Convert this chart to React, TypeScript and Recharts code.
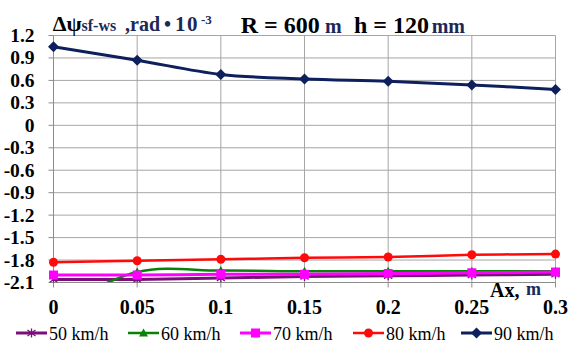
import React from "react"
import {
  LineChart,
  Line,
  XAxis,
  YAxis,
  CartesianGrid,
  Customized,
} from "recharts"

// values
const xValues = [0, 0.05, 0.1, 0.15, 0.2, 0.25, 0.3]
const speed50 = [-2.06, -2.06, -2.04, -2.02, -2.01, -2.0, -1.99]
const speed60 = [-2.45, -1.96, -1.94, -1.95, -1.95, -1.95, -1.95]
const speed70 = [-2.0, -2.0, -1.99, -1.99, -1.98, -1.97, -1.96]
const speed80 = [-1.83, -1.81, -1.79, -1.77, -1.76, -1.73, -1.72]
const speed90 = [1.05, 0.87, 0.68, 0.62, 0.59, 0.54, 0.48]
const seriesNames = ["50 km/h", "60 km/h", "70 km/h", "80 km/h", "90 km/h"]
const yTicks = [1.2, 0.9, 0.6, 0.3, 0, -0.3, -0.6, -0.9, -1.2, -1.5, -1.8, -2.1]

const data = xValues.map((x, i) => ({
  x,
  s50: speed50[i],
  s60: speed60[i],
  s70: speed70[i],
  s80: speed80[i],
  s90: speed90[i],
}))

const FONT = "Liberation Serif, DejaVu Serif, serif"
const NAVY = "#0d1f5c"
const TXT_NAVY = "#1c2858"

// Excel-like smoothing (Catmull-Rom as cubic beziers)
const excelCurve = (context: any) => {
  let pts: number[][] = []
  return {
    areaStart() {},
    areaEnd() {},
    lineStart() {
      pts = []
    },
    point(x: number, y: number) {
      pts.push([+x, +y])
    },
    lineEnd() {
      if (!pts.length) return
      context.moveTo(pts[0][0], pts[0][1])
      for (let i = 0; i < pts.length - 1; i++) {
        const p0 = pts[i - 1] || pts[i]
        const p1 = pts[i]
        const p2 = pts[i + 1]
        const p3 = pts[i + 2] || p2
        context.bezierCurveTo(
          p1[0] + (p2[0] - p0[0]) / 6,
          p1[1] + (p2[1] - p0[1]) / 6,
          p2[0] - (p3[0] - p1[0]) / 6,
          p2[1] - (p3[1] - p1[1]) / 6,
          p2[0],
          p2[1]
        )
      }
    },
  }
}

type MarkProps = { cx: number; cy: number; color: string }

const Asterisk = ({ cx, cy, color }: MarkProps) => (
  <g stroke={color} strokeWidth={1.3}>
    <line x1={cx} y1={cy - 4.5} x2={cx} y2={cy + 4.5} />
    <line x1={cx - 4} y1={cy - 3} x2={cx + 4} y2={cy + 3} />
    <line x1={cx - 4} y1={cy + 3} x2={cx + 4} y2={cy - 3} />
  </g>
)
const Triangle = ({ cx, cy, color }: MarkProps) => (
  <polygon points={`${cx},${cy - 4.5} ${cx + 4.5},${cy + 3.5} ${cx - 4.5},${cy + 3.5}`} fill={color} />
)
const Square = ({ cx, cy, color }: MarkProps) => (
  <rect x={cx - 4.5} y={cy - 4.5} width={9} height={9} fill={color} />
)
const Circle = ({ cx, cy, color }: MarkProps) => <circle cx={cx} cy={cy} r={4.5} fill={color} />
const Diamond = ({ cx, cy, color }: MarkProps) => (
  <polygon points={`${cx},${cy - 5.5} ${cx + 5.5},${cy} ${cx},${cy + 5.5} ${cx - 5.5},${cy}`} fill={color} />
)

const series = [
  { key: "s50", color: "#7a0f7a", width: 3, Mark: Asterisk },
  { key: "s60", color: "#078207", width: 2.5, Mark: Triangle },
  { key: "s70", color: "#ff00ff", width: 3, Mark: Square },
  { key: "s80", color: "#ff0a0a", width: 2.5, Mark: Circle },
  { key: "s90", color: NAVY, width: 3, Mark: Diamond },
]

const legendX = [16, 128, 240, 353, 461]

const T = ({ style, children, ...rest }: any) => (
  <text {...rest} style={{ fontFamily: FONT, fontWeight: "bold", ...style }}>
    {children}
  </text>
)

const Labels = () => (
  <g>
    <T x={240.7} y={32.7} fontSize={24} fill="#000">R = 600</T>
    <T x={325} y={32.7} fontSize={20} fill={TXT_NAVY}>m</T>
    <T x={354} y={32.7} fontSize={24} fill="#000">h = 120</T>
    <T x={431.7} y={32.7} fontSize={20} fill={TXT_NAVY}>mm</T>

    <T x={52.7} y={31} fontSize={22} fill="#000">Δψ</T>
    <T x={81.5} y={31} fontSize={16} fill={TXT_NAVY}>sf-ws</T>
    <T x={125} y={31} fontSize={20} fill={TXT_NAVY}>,rad</T>
    <T x={164} y={31} fontSize={20} fill={TXT_NAVY}>•</T>
    <T x={175} y={31} fontSize={21} fill={TXT_NAVY} style={{ letterSpacing: 1.5 }}>10</T>
    <T x={201} y={24} fontSize={13} fill={TXT_NAVY}>-3</T>

    <T x={490} y={296.7} fontSize={20} fill="#000">Ax,</T>
    <T x={526} y={295} fontSize={18} fill={TXT_NAVY}>m</T>

    {series.map((s, i) => (
      <g key={s.key}>
        <line x1={legendX[i]} y1={333} x2={legendX[i] + 31} y2={333} stroke={s.color} strokeWidth={s.width} />
        <s.Mark cx={legendX[i] + 15.5} cy={333} color={s.color} />
        <T x={legendX[i] + 33} y={340} fontSize={18} fill="#000" style={{ fontWeight: "normal" }}>
          {seriesNames[i]}
        </T>
      </g>
    ))}
  </g>
)

const XTick = ({ x, y, payload }: any) => (
  <T x={x} y={y + 13} fontSize={20} fill="#000" textAnchor="middle">
    {String(payload.value)}
  </T>
)

const YTick = ({ x, y, payload }: any) => (
  <T x={x} y={y + 6.5} fontSize={19.5} fill="#000" textAnchor="end">
    {Math.abs(payload.value) < 1e-9 ? "0" : payload.value.toFixed(1)}
  </T>
)

export default function App() {
  return (
    <div style={{ position: "absolute", left: 0, top: 0, width: 576, height: 351, background: "#fff" }}>
      <LineChart
        width={576}
        height={351}
        data={data}
        margin={{ top: 35.5, right: 20.5, left: 0, bottom: 38.5 }}
      >
        <CartesianGrid stroke="#a6a6a6" strokeWidth={1} />
        <XAxis
          dataKey="x"
          type="number"
          domain={[0, 0.3]}
          ticks={xValues}
          interval={0}
          height={30}
          tickSize={5}
          tickMargin={13}
          stroke="#8c8c8c"
          tick={<XTick />}
        />
        <YAxis
          type="number"
          domain={[-2.1, 1.2]}
          ticks={yTicks}
          interval={0}
          allowDataOverflow
          width={53.5}
          tickSize={5}
          tickMargin={14}
          stroke="#8c8c8c"
          tick={<YTick />}
        />
        {series.map((s) => (
          <Line
            key={s.key}
            dataKey={s.key}
            type={excelCurve as any}
            stroke={s.color}
            strokeWidth={s.width}
            isAnimationActive={false}
            dot={(p: any) => <s.Mark key={`${s.key}-${p.index}`} cx={p.cx} cy={p.cy} color={s.color} />}
            activeDot={false}
          />
        ))}
        <Customized component={<Labels />} />
      </LineChart>
    </div>
  )
}
